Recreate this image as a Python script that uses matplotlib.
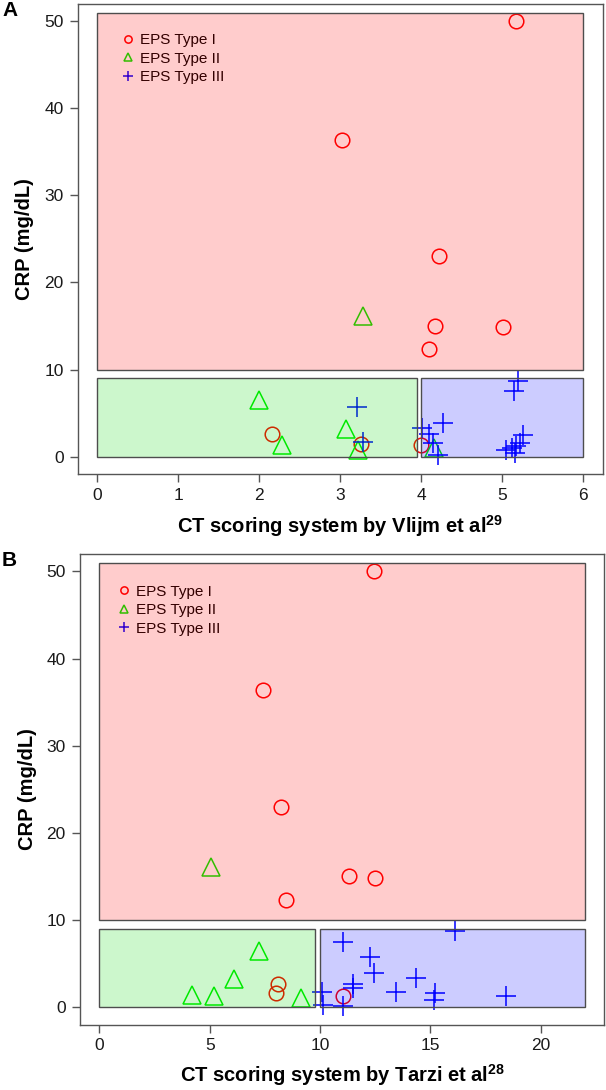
import matplotlib
matplotlib.use("Agg")
import matplotlib.pyplot as plt
from matplotlib.patches import Rectangle

plt.rcParams['font.family'] = ['Liberation Sans', 'DejaVu Sans']
plt.rcParams['mathtext.fontset'] = 'custom'
plt.rcParams['mathtext.rm'] = 'Liberation Sans'
plt.rcParams['mathtext.bf'] = 'Liberation Sans:bold'

# ---------------- data ----------------
labels = ["EPS Type I", "EPS Type II", "EPS Type III"]

# Panel A: Vlijm score vs CRP
a_t1_x = [5.17, 3.02, 4.22, 4.17, 5.01, 4.09, 2.16, 3.26, 4.00]
a_t1_y = [50.0, 36.4, 23.0, 15.0, 14.9, 12.3, 2.6, 1.5, 1.3]
a_t2_x = [3.28, 2.00, 3.07, 2.28, 3.22, 4.16]
a_t2_y = [16.1, 6.5, 3.2, 1.35, 0.8, 0.95]
a_t3_x = [5.20, 5.14, 3.21, 4.27, 4.01, 4.10, 4.15, 4.21, 3.28, 5.25, 5.22, 5.17, 5.05, 5.16, 5.12]
a_t3_y = [8.7, 7.5, 5.7, 3.9, 3.3, 2.6, 1.6, 0.2, 1.65, 2.5, 1.6, 1.2, 0.8, 0.4, 1.0]

# Panel B: Tarzi score vs CRP
b_t1_x = [12.43, 7.40, 8.25, 11.31, 12.48, 8.47, 8.11, 8.02, 11.03]
b_t1_y = [50.0, 36.4, 23.0, 15.0, 14.8, 12.3, 2.6, 1.6, 1.25]
b_t2_x = [5.05, 7.24, 6.10, 4.19, 5.17, 9.15]
b_t2_y = [16.1, 6.45, 3.2, 1.4, 1.3, 1.0]
b_t3_x = [16.10, 11.04, 12.24, 12.45, 14.35, 11.47, 13.44, 15.21, 15.17, 18.43, 10.10, 10.12, 11.03, 11.50]
b_t3_y = [8.7, 7.5, 5.75, 3.9, 3.3, 2.6, 1.7, 1.6, 0.8, 1.3, 1.7, 0.25, 0.1, 2.2]

# region boxes (x0, x1, y0, y1) for type I / II / III
a_regions = [(0, 6, 10, 51), (0, 3.95, 0, 9), (4, 6, 0, 9)]
b_regions = [(0, 22, 10, 51), (0, 9.75, 0, 9), (10, 22, 0, 9)]

a_xticks = [0, 1, 2, 3, 4, 5, 6]
b_xticks = [0, 5, 10, 15, 20]
yticks = [0, 10, 20, 30, 40, 50]

a_xlabel = r'CT scoring system by Vlijm et al$^{\mathbf{29}}$'
b_xlabel = r'CT scoring system by Tarzi et al$^{\mathbf{28}}$'

# ---------------- style ----------------
colors = ['#ff0000', '#00ee00', '#0000ff']
fills = [(1, 0, 0, 0.2), (0, 0.85, 0, 0.2), (0, 0, 1, 0.2)]
frame_c = '#555555'

fig = plt.figure(figsize=(6.06, 10.9), dpi=100)
W, H = 606, 1090


def make_axes(l, r, t, b):
    return fig.add_axes([l / W, 1 - b / H, (r - l) / W, (b - t) / H])


def panel(ax, t1, t2, t3, regions, xlim, xticks, xlabel, leg_anchor, xlabpad):
    h1, = ax.plot(t1[0], t1[1], 'o', ms=10.5, mfc='none', mec=colors[0], mew=1.1, zorder=3)
    h2, = ax.plot(t2[0], t2[1], '^', ms=12.5, mfc='none', mec=colors[1], mew=1.1, zorder=3)
    h3, = ax.plot(t3[0], t3[1], '+', ms=15, mec=colors[2], mew=1.1, zorder=3)
    for (x0, x1, y0, y1), fc in zip(regions, fills):
        ax.add_patch(Rectangle((x0, y0), x1 - x0, y1 - y0, facecolor=fc,
                               edgecolor=(0.3, 0.3, 0.3, 1), lw=1.0, zorder=6))
    leg = ax.legend([h1, h2, h3], labels, loc='upper left', bbox_to_anchor=leg_anchor,
                    frameon=False, markerscale=0.5, handlelength=0.8, handletextpad=0.4,
                    labelspacing=0.3, fontsize=11, borderpad=0, borderaxespad=0)
    leg.set_zorder(5)
    ax.set_xlim(*xlim)
    ax.set_ylim(-2, 52)
    ax.set_xticks(xticks)
    ax.set_yticks(yticks)
    for s in ax.spines.values():
        s.set_color(frame_c)
        s.set_linewidth(1.0)
    ax.tick_params(axis='both', direction='out', length=6, width=1.0, color=frame_c,
                   labelsize=12.5, labelcolor='#1a1a1a')
    ax.tick_params(axis='x', pad=4)
    ax.tick_params(axis='y', pad=4.3)
    ax.set_xlabel(xlabel, fontsize=14.5, fontweight='bold', labelpad=xlabpad)
    ax.set_ylabel('CRP (mg/dL)', fontsize=14.5, fontweight='bold', labelpad=7)


axA = make_axes(77.9, 602.7, 3.8, 474)
panel(axA, (a_t1_x, a_t1_y), (a_t2_x, a_t2_y), (a_t3_x, a_t3_y), a_regions,
      (-0.24, 6.24), a_xticks, a_xlabel, (0.083, 0.938), 7)

axB = make_axes(80, 604.3, 554, 1024.5)
panel(axB, (b_t1_x, b_t1_y), (b_t2_x, b_t2_y), (b_t3_x, b_t3_y), b_regions,
      (-0.88, 22.88), b_xticks, b_xlabel, (0.072, 0.935), 6.5)

fig.text(2 / W, 1 - 11 / H, 'A', fontsize=15, fontweight='bold', va='center', ha='left')
fig.text(2 / W, 1 - 561 / H, 'B', fontsize=15, fontweight='bold', va='center', ha='left')

fig.savefig('out.png', dpi=100)
